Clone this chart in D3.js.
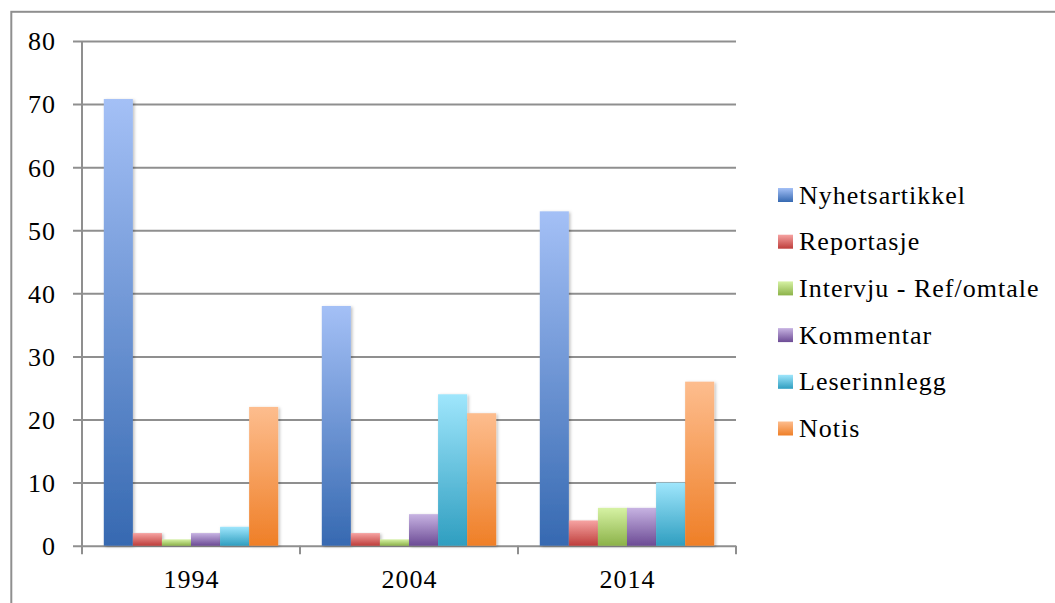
<!DOCTYPE html>
<html><head><meta charset="utf-8">
<script src="https://cdn.jsdelivr.net/npm/d3@7"></script>
<style>html,body{margin:0;padding:0;background:#fff;}svg{display:block;}
svg text{font-family:"Liberation Serif","DejaVu Serif","Times New Roman",serif;letter-spacing:1px;}</style>
</head><body>
<svg id="chart" width="1055" height="603"></svg>
<script>
const categories = ["1994", "2004", "2014"];
const seriesNames = ["Nyhetsartikkel", "Reportasje", "Intervju - Ref/omtale", "Kommentar", "Leserinnlegg", "Notis"];
const nyhetsartikkel = [70.8, 38, 53];
const reportasje = [2, 2, 4];
const intervju = [1, 1, 6];
const kommentar = [2, 5, 6];
const leserinnlegg = [3, 24, 10];
const notis = [22, 21, 26];
const yTicks = [0, 10, 20, 30, 40, 50, 60, 70, 80];
const colorTop = ["#a4c0f6", "#f6a3a2", "#d6f2a4", "#c7b3e2", "#9fe6fc", "#fdbd8e"];
const colorBottom = ["#3669b1", "#be3e3b", "#8cb249", "#6c4b95", "#2f9ec0", "#ef7f27"];

(function () {
const seriesValues = [nyhetsartikkel, reportasje, intervju, kommentar, leserinnlegg, notis];
const GRID = "#8f8f8f";

const svg = d3.select("#chart");
const defs = svg.append("defs");
seriesNames.forEach((s, i) => {
  const g = defs.append("linearGradient").attr("id", "grad" + i)
    .attr("x1", 0).attr("y1", 0).attr("x2", 0).attr("y2", 1);
  g.append("stop").attr("offset", "0%").attr("stop-color", colorTop[i]);
  g.append("stop").attr("offset", "100%").attr("stop-color", colorBottom[i]);
});
const f = defs.append("filter").attr("id", "shadow").attr("x", "-20%").attr("y", "-5%").attr("width", "150%").attr("height", "115%");
f.append("feDropShadow").attr("dx", 1.5).attr("dy", 1).attr("stdDeviation", 1.5).attr("flood-color", "#000").attr("flood-opacity", 0.25);

// outer border
svg.append("rect").attr("x", 11.3).attr("y", 11.8).attr("width", 1100).attr("height", 700)
  .attr("fill", "none").attr("stroke", GRID).attr("stroke-width", 2);

const pLeft = 82, pRight = 736, pTop = 41, pBottom = 545.7;
const x0 = d3.scaleBand().domain(categories).range([pLeft, pRight]).padding(0);
const bw = x0.bandwidth();
const x1 = d3.scaleBand().domain(seriesNames).range([bw * 0.1, bw * 0.9]).padding(0);
const y = d3.scaleLinear().domain([0, 80]).range([pBottom, pTop]);

// y axis with gridlines
const yAxis = svg.append("g").attr("transform", `translate(73,0)`)
  .call(d3.axisLeft(y).tickValues(yTicks).tickSize(-(pRight - 73)).tickPadding(17).tickFormat(d3.format("d")));
yAxis.attr("font-family", null);
yAxis.select(".domain").remove();
yAxis.selectAll(".tick line").attr("stroke", GRID).attr("stroke-width", 2);
yAxis.selectAll(".tick text").style("font-size", "26px").attr("fill", "#000").attr("dy", "0.34em");

// y axis vertical line
svg.append("line").attr("x1", pLeft).attr("x2", pLeft).attr("y1", pTop).attr("y2", pBottom + 8.5)
  .attr("stroke", GRID).attr("stroke-width", 2);

// category ticks at band edges
const edges = categories.map(c => x0(c)).concat([x0(categories[categories.length - 1]) + bw]);
svg.selectAll(".cattick").data(edges.slice(1)).enter().append("line")
  .attr("x1", d => d).attr("x2", d => d).attr("y1", pBottom).attr("y2", pBottom + 8.5)
  .attr("stroke", GRID).attr("stroke-width", 2);

// x axis labels
const xAxis = svg.append("g").attr("transform", `translate(0,${pBottom})`)
  .call(d3.axisBottom(x0).tickSize(0).tickPadding(0));
xAxis.attr("font-family", null);
xAxis.select(".domain").remove();
xAxis.selectAll(".tick text").style("font-size", "26px").attr("fill", "#000")
  .attr("y", 42).attr("dy", 0).attr("dx", 0.5);

// bars
const groups = svg.append("g").selectAll("g").data(categories).enter().append("g")
  .attr("transform", d => `translate(${x0(d)},0)`);
groups.selectAll("rect").data((c, ci) => seriesNames.map((s, si) => ({ s, si, v: seriesValues[si][ci] })))
  .enter().append("rect")
  .attr("x", d => x1(d.s)).attr("width", x1.bandwidth())
  .attr("y", d => y(d.v)).attr("height", d => y(0) - y(d.v))
  .attr("fill", d => `url(#grad${d.si})`).attr("filter", "url(#shadow)");

// legend
const legend = svg.append("g");
const rowY = d3.scalePoint().domain(seriesNames).range([195, 428.5]);
seriesNames.forEach((s, i) => {
  const cy = rowY(s);
  legend.append("rect").attr("x", 778).attr("y", cy - 7).attr("width", 15).attr("height", 14)
    .attr("fill", `url(#grad${i})`);
  legend.append("text").attr("x", 799).attr("y", cy + 8.5).text(s)
    .style("font-size", "26px").attr("fill", "#000");
});
})();
</script>
</body></html>
